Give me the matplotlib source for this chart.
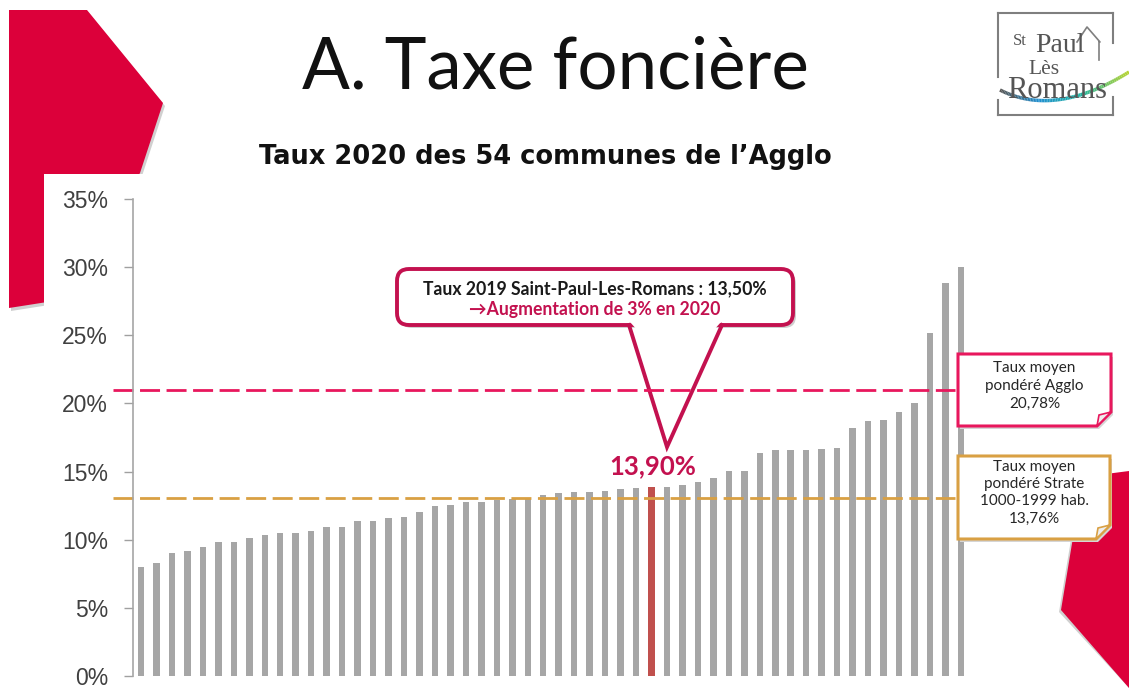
import numpy as np
import matplotlib
matplotlib.use("Agg")
import matplotlib.pyplot as plt
from matplotlib.patches import Polygon, Rectangle, FancyBboxPatch
from matplotlib.collections import LineCollection
from matplotlib.colors import LinearSegmentedColormap

# taux de taxe foncière 2020 des 54 communes (tri croissant)
taux = [8.0, 8.3, 9.0, 9.2, 9.5, 9.85, 9.85, 10.1, 10.35, 10.5,
        10.5, 10.65, 10.9, 10.95, 11.35, 11.35, 11.6, 11.65, 12.05, 12.45,
        12.55, 12.8, 12.8, 12.95, 13.0, 13.0, 13.3, 13.45, 13.5, 13.5,
        13.6, 13.7, 13.8, 13.9, 13.9, 14.0, 14.2, 14.5, 15.05, 15.05,
        16.35, 16.6, 16.6, 16.6, 16.65, 16.75, 18.2, 18.7, 18.8, 19.4,
        20.05, 25.2, 28.8, 30.0]
idx_stpaul = 33
moy_agglo = 21.0
moy_strate = 13.05
yticks = [0, 5, 10, 15, 20, 25, 30, 35]

titre = "A. Taxe foncière"
sous_titre = "Taux 2020 des 54 communes de l\u2019Agglo"
bulle_l1 = "Taux 2019 Saint-Paul-Les-Romans : 13,50%"
bulle_l2 = "\u2192Augmentation de 3% en 2020"
txt_agglo = "Taux moyen\npondéré Agglo\n20,78%"
txt_strate = "Taux moyen\npondéré Strate\n1000-1999 hab.\n13,76%"

RED = "#DC003A"
PINK = "#E8175D"
CRIMSON = "#C3114F"
ORANGE = "#D9A043"
GREY = "#A6A6A6"

W, H = 1129, 688
fig = plt.figure(figsize=(W / 100, H / 100), dpi=100)

# background layer in pixel coords
bg = fig.add_axes([0, 0, 1, 1], zorder=0)
bg.set_xlim(0, W)
bg.set_ylim(H, 0)
bg.axis("off")
left_red = [(9, 10), (87, 10), (163, 103), (140, 173), (60, 300), (9, 308)]
bg.add_patch(Polygon([(x + 2, y + 3) for x, y in left_red], closed=True, fc="#d0d0d0", ec="none"))
bg.add_patch(Polygon(left_red, closed=True, fc=RED, ec="none"))
bg.add_patch(Rectangle((44, 174), W - 44, H - 174, fc="white", ec="none"))
bg.add_patch(Polygon([(1081, 479), (1131, 473), (1131, 690), (1059, 612)], closed=True, fc="#d0d0d0", ec="none"))
bg.add_patch(Polygon([(1083, 477), (1129, 471), (1129, 688), (1061, 610)], closed=True, fc=RED, ec="none"))

bg.text(555, 68, titre, ha="center", va="center", fontsize=51, family="Lato", color="#111111")
bg.text(545, 157, sous_titre, ha="center", va="center", fontsize=18.5, family="DejaVu Sans",
        weight="bold", color="#111111")

# logo
lc = "#7f7f7f"
for seg in [((998, 13), (1113, 13)), ((998, 115), (1113, 115)),
            ((998, 13), (998, 77)), ((998, 100), (998, 115)),
            ((1113, 13), (1113, 43)), ((1113, 97), (1113, 115))]:
    bg.plot([seg[0][0], seg[1][0]], [seg[0][1], seg[1][1]], color=lc, lw=1.5)
serif = "Liberation Serif"
bg.text(1013, 45, "St", fontsize=12, family=serif, color="#555555", va="baseline")
bg.text(1035, 52, "Paul", fontsize=20, family=serif, color="#555555", va="baseline")
bg.text(1028, 74, "Lès", fontsize=15.5, family=serif, color="#555555", va="baseline")
bg.text(1007, 98, "Romans", fontsize=22, family=serif, color="#555555", va="baseline")
bg.plot([1077, 1087, 1100, 1099, 1099], [42, 27, 42, 42, 60], color=lc, lw=1.2)
t = np.linspace(0, 1, 80)
sx = (1 - t) ** 2 * 1000 + 2 * (1 - t) * t * 1055 + t ** 2 * 1129
sy = (1 - t) ** 2 * 90 + 2 * (1 - t) * t * 118 + t ** 2 * 72
pts = np.array([sx, sy]).T.reshape(-1, 1, 2)
segs = np.concatenate([pts[:-1], pts[1:]], axis=1)
swoosh = LinearSegmentedColormap.from_list("sw", ["#555555", "#1f8fd0", "#22b5a0", "#b5d334"])
bg.add_collection(LineCollection(segs, colors=swoosh(np.linspace(0, 1, len(segs))), linewidths=2.5))

# callout layer
mid = fig.add_axes([0, 0, 1, 1], zorder=1)
mid.set_xlim(0, W)
mid.set_ylim(H, 0)
mid.axis("off")
mid.patch.set_alpha(0)
mid.add_patch(FancyBboxPatch((400, 272), 396, 56, boxstyle="round,pad=0,rounding_size=12",
                             fc="#cfcfcf", ec="none"))
mid.add_patch(FancyBboxPatch((397, 269), 396, 56, boxstyle="round,pad=0,rounding_size=12",
                             fc="white", ec=CRIMSON, lw=2.8))
mid.add_patch(Polygon([(630, 322), (721, 322), (713, 331), (638, 331)], closed=True, fc="white", ec="none"))
mid.plot([629, 667, 722], [325, 447, 325], color=CRIMSON, lw=2.8, solid_joinstyle="miter")
mid.text(595, 289, bulle_l1, ha="center", va="center", fontsize=12.7, family="Lato",
         weight="bold", color="#1a1a1a")
mid.text(595, 309, bulle_l2, ha="center", va="center", fontsize=12.7,
         family=["Lato", "DejaVu Sans"], weight="bold", color=CRIMSON)

# chart
x0, step = 141, 15.47
ax = fig.add_axes([133 / W, 12 / H, (970 - 133) / W, 477 / H], zorder=2)
ax.patch.set_alpha(0)
xs = np.arange(len(taux))
colors = [GREY] * len(taux)
colors[idx_stpaul] = "#C0504D"
ax.bar(xs, taux, width=0.42, color=colors)
ax.set_xlim((133 - x0) / step, (970 - x0) / step)
ax.set_ylim(0, 35)
ax.set_yticks(yticks)
ax.set_yticklabels([f"{v}%" for v in yticks], fontsize=16.5, family="Liberation Sans", color="#404040")
ax.tick_params(axis="y", length=6.5, width=1, color="#a0a0a0", pad=11.5)
ax.set_xticks([])
for s in ["top", "right", "bottom"]:
    ax.spines[s].set_visible(False)
ax.spines["left"].set_color("#a6a6a6")
ax.spines["left"].set_linewidth(1.2)

xl = [(113 - x0) / step, (955 - x0) / step]
ax.plot(xl, [moy_agglo] * 2, color=PINK, lw=2, dashes=[7.2, 2.35], clip_on=False)
ax.plot(xl, [moy_strate] * 2, color=ORANGE, lw=2, dashes=[7.2, 2.35], clip_on=False)

v = taux[idx_stpaul]
ax.annotate(f"{v:.2f}".replace(".", ",") + "%", xy=(idx_stpaul, v), xytext=(1, 6),
            textcoords="offset points", ha="center", va="bottom", fontsize=18.5,
            family="Lato", weight="bold", color=CRIMSON)

# side boxes
top = fig.add_axes([0, 0, 1, 1], zorder=3)
top.set_xlim(0, W)
top.set_ylim(H, 0)
top.axis("off")
top.patch.set_alpha(0)


def note_box(x1, y1, x2, y2, col, txt, ys):
    top.add_patch(Polygon([(x1 + 2, y1 + 3), (x2 + 2, y1 + 3), (x2 + 2, y2 - 11), (x2 - 12, y2 + 3), (x1 + 2, y2 + 3)],
                          closed=True, fc="#d5d5d5", ec="none"))
    top.add_patch(Polygon([(x1, y1), (x2, y1), (x2, y2 - 14), (x2 - 14, y2), (x1, y2)],
                          closed=True, fc="white", ec=col, lw=2.2))
    top.add_patch(Polygon([(x2 - 14, y2), (x2 - 12, y2 - 11), (x2, y2 - 14)], closed=True,
                          fc="#eeeeee", ec=col, lw=1.2))
    for line, y in zip(txt.split("\n"), ys):
        top.text((x1 + x2) / 2, y, line, ha="center", va="center", fontsize=11,
                 family="Lato", color="#262626")


note_box(958, 354, 1111, 426, PINK, txt_agglo, [368, 386, 404])
note_box(958, 456, 1110, 539, ORANGE, txt_strate, [467, 484, 501, 519])

fig.savefig("out.png", dpi=100, facecolor="white")
